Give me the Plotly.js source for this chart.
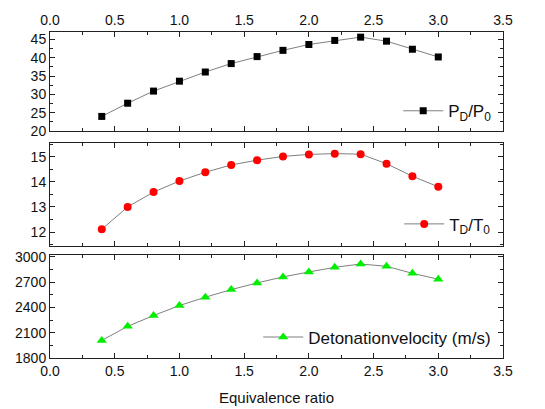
<!DOCTYPE html>
<html><head><meta charset="utf-8">
<script src="https://cdn.plot.ly/plotly-3.0.1.min.js"></script>
<style>body{margin:0;background:#fff}#c{width:545px;height:409px}</style>
</head><body><div id="c"></div>
<script>
const ratio = [0.4,0.6,0.8,1.0,1.2,1.4,1.6,1.8,2.0,2.2,2.4,2.6,2.8,3.0];
const pressureRatio = [24.0,27.6,30.9,33.6,36.1,38.4,40.3,42.0,43.6,44.7,45.6,44.5,42.3,40.2];
const temperatureRatio = [12.11,13.0,13.59,14.03,14.38,14.67,14.86,15.01,15.09,15.12,15.10,14.72,14.22,13.8];
const velocity = [2008,2175,2303,2421,2520,2610,2689,2760,2819,2874,2913,2886,2803,2733];
const xTicks = [0.0,0.5,1.0,1.5,2.0,2.5,3.0,3.5];

const font = {family:'"Liberation Sans", Arial, sans-serif', size:14, color:'#111'};
const titleFont = {family:'"Liberation Sans", Arial, sans-serif', size:15, color:'#111'};
const lineStyle = {color:'#7f7f7f', width:1};

const traces = [
  {x:ratio, y:pressureRatio, xaxis:'x2', yaxis:'y', mode:'lines+markers', name:'P<sub>D</sub>/P<sub>0</sub>',
   line:lineStyle, marker:{symbol:'square', size:7, color:'#000'}, legend:'legend'},
  {x:ratio, y:temperatureRatio, xaxis:'x3', yaxis:'y2', mode:'lines+markers', name:'T<sub>D</sub>/T<sub>0</sub>',
   line:lineStyle, marker:{symbol:'circle', size:8, color:'#ff0000'}, legend:'legend2'},
  {x:ratio, y:velocity, xaxis:'x', yaxis:'y3', mode:'lines+markers', name:'Detonationvelocity (m/s)',
   line:lineStyle, marker:{symbol:'triangle-up', size:9, color:'#00ee00'}, legend:'legend3'}
];

function xax(extra){
  return Object.assign({range:[0,3.5], tickvals:xTicks, ticktext:xTicks.map(v=>v.toFixed(1)),
    ticks:'inside', ticklen:5, tickcolor:'#222', showline:true, linecolor:'#222', linewidth:1, mirror:'allticks',
    showgrid:false, zeroline:false, tickfont:font,
    minor:{dtick:0.25, tick0:0, ticks:'inside', ticklen:3, tickcolor:'#222'}}, extra);
}
function yax(extra){
  return Object.assign({ticks:'inside', ticklen:5, tickcolor:'#222', showline:true, linecolor:'#222', linewidth:1,
    mirror:'allticks', showgrid:false, zeroline:false, tickfont:font}, extra);
}
const legBase = {bgcolor:'rgba(0,0,0,0)', borderwidth:0, xanchor:'right', yanchor:'middle', itemwidth:40,
  font:{family:'"Liberation Sans", Arial, sans-serif', size:17, color:'#111'}};

const layout = {
  width:545, height:409, margin:{l:50, r:42, t:32, b:51},
  paper_bgcolor:'#fff', plot_bgcolor:'#fff', showlegend:true,
  xaxis: xax({anchor:'y3', side:'bottom', title:{text:'Equivalence ratio', font:titleFont, standoff:14}}),
  xaxis2: xax({anchor:'y', side:'top', matches:'x'}),
  xaxis3: xax({anchor:'y2', showticklabels:false, matches:'x'}),
  yaxis: yax({domain:[0.696,1.0], range:[20,47], tickvals:[20,25,30,35,40,45], minor:{dtick:2.5, tick0:0, ticks:'inside', ticklen:3, tickcolor:'#222'}}),
  yaxis2: yax({domain:[0.344,0.660], range:[11.45,15.55], tickvals:[12,13,14,15], minor:{dtick:0.5, tick0:0, ticks:'inside', ticklen:3, tickcolor:'#222'}}),
  yaxis3: yax({domain:[0,0.316], range:[1800,3020], tickvals:[1800,2100,2400,2700,3000], minor:{dtick:150, tick0:0, ticks:'inside', ticklen:3, tickcolor:'#222'}}),
  legend: Object.assign({}, legBase, {x:0.985, y:0.757}),
  legend2: Object.assign({}, legBase, {x:0.985, y:0.41}),
  legend3: Object.assign({}, legBase, {x:0.985, y:0.063})
};
Plotly.newPlot('c', traces, layout, {displayModeBar:false, staticPlot:true});
</script></body></html>
